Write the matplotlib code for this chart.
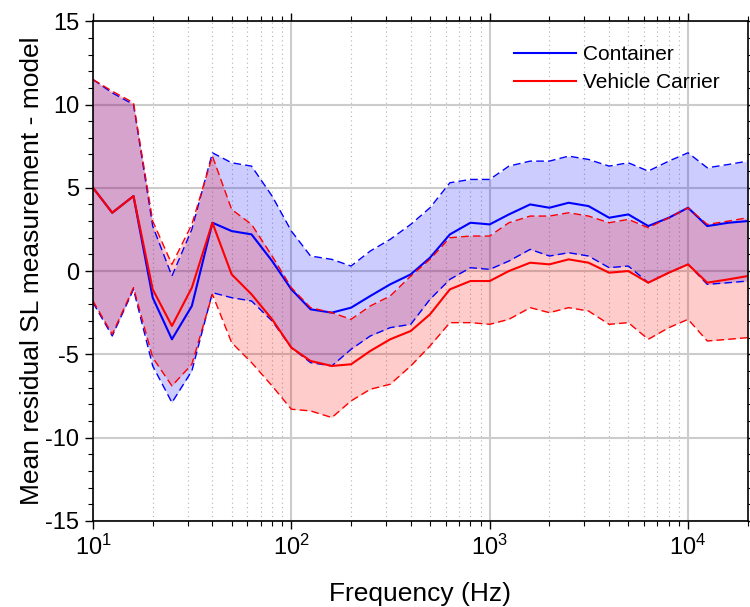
import numpy as np
import matplotlib.pyplot as plt
from matplotlib.ticker import LogLocator, MultipleLocator, NullFormatter

plt.rcParams['font.family'] = ['Liberation Sans', 'DejaVu Sans']
plt.rcParams['axes.unicode_minus'] = False
plt.rcParams['mathtext.fontset'] = 'custom'
plt.rcParams['mathtext.rm'] = 'Liberation Sans'

# third-octave band centre frequencies (Hz)
freq = [10, 12.5, 16, 20, 25, 31.5, 40, 50, 63, 80, 100, 125, 160, 200, 250, 315,
        400, 500, 630, 800, 1000, 1250, 1600, 2000, 2500, 3150, 4000, 5000, 6300,
        8000, 10000, 12500, 16000, 20000]

# Container: mean residual and band limits
cont_mean = [5.0, 3.5, 4.5, -1.6, -4.1, -2.1, 2.9, 2.4, 2.2, 0.6, -1.1, -2.3, -2.5, -2.2,
             -1.5, -0.8, -0.2, 0.8, 2.2, 2.9, 2.8, 3.4, 4.0, 3.8, 4.1, 3.9, 3.2, 3.4, 2.7,
             3.2, 3.8, 2.7, 2.9, 3.0]
cont_upper = [11.5, 10.7, 10.0, 2.7, -0.3, 2.5, 7.1, 6.5, 6.3, 4.5, 2.4, 0.9, 0.7, 0.3,
              1.2, 1.9, 2.8, 3.8, 5.3, 5.5, 5.5, 6.3, 6.6, 6.6, 6.9, 6.7, 6.3, 6.5, 6.0,
              6.6, 7.1, 6.2, 6.4, 6.6]
cont_lower = [-1.9, -3.9, -1.1, -5.7, -7.9, -6.0, -1.3, -1.6, -1.8, -3.0, -4.6, -5.5, -5.7,
              -4.7, -3.9, -3.4, -3.2, -1.7, -0.5, 0.2, 0.1, 0.6, 1.3, 0.9, 1.1, 0.9, 0.2,
              0.3, -0.7, -0.1, 0.4, -0.8, -0.7, -0.6]

# Vehicle carrier: mean residual and band limits
veh_mean = [5.0, 3.5, 4.5, -1.1, -3.3, -1.0, 2.9, -0.2, -1.4, -2.9, -4.6, -5.4, -5.7, -5.6,
            -4.8, -4.1, -3.6, -2.6, -1.1, -0.6, -0.6, 0.0, 0.5, 0.4, 0.7, 0.5, -0.1, 0.0,
            -0.7, -0.1, 0.4, -0.7, -0.5, -0.3]
veh_upper = [11.5, 10.8, 10.1, 3.0, 0.4, 2.8, 6.9, 3.7, 2.8, 0.9, -1.0, -2.2, -2.5, -2.9,
             -2.1, -1.5, -0.3, 0.7, 2.0, 2.1, 2.1, 2.9, 3.3, 3.3, 3.5, 3.3, 2.9, 3.1, 2.6,
             3.2, 3.8, 2.8, 3.0, 3.2]
veh_lower = [-1.8, -3.8, -1.0, -5.2, -6.9, -5.6, -1.4, -4.3, -5.5, -6.9, -8.3, -8.4, -8.8,
             -7.8, -7.1, -6.8, -5.7, -4.5, -3.1, -3.1, -3.2, -2.9, -2.2, -2.5, -2.2, -2.4,
             -3.2, -3.1, -4.1, -3.4, -2.9, -4.2, -4.1, -4.0]

fig = plt.figure(figsize=(7.5, 6.07), dpi=100)
ax = fig.add_axes([0.124, 0.142, 0.873, 0.823])

dash = (0, (5.5, 3))

# container band
ax.fill_between(freq, cont_lower, cont_upper, color='blue', alpha=0.2, linewidth=0)
ax.plot(freq, cont_upper, linestyle=dash, color='blue', lw=1)
ax.plot(freq, cont_lower, linestyle=dash, color='blue', lw=1)
ax.plot(freq, cont_mean, '-', color='blue', lw=1.5, label='Container')

# vehicle carrier band
ax.fill_between(freq, veh_lower, veh_upper, color='red', alpha=0.2, linewidth=0)
ax.plot(freq, veh_upper, linestyle=dash, color='red', lw=1)
ax.plot(freq, veh_lower, linestyle=dash, color='red', lw=1)
ax.plot(freq, veh_mean, '-', color='red', lw=1.5, label='Vehicle Carrier')

ax.set_xscale('log')
ax.set_xlim(10, 20000)
ax.set_ylim(-15, 15)
ax.yaxis.set_major_locator(MultipleLocator(5))
ax.yaxis.set_minor_locator(MultipleLocator(1))
ax.xaxis.set_minor_locator(LogLocator(base=10, subs=np.arange(2, 10)))
ax.xaxis.set_minor_formatter(NullFormatter())

ax.grid(True, which='major', color='0.8', lw=1.5)
ax.grid(True, which='minor', axis='x', color='0.7', lw=0.8, linestyle=(0, (1, 3)))
ax.set_axisbelow(True)

ax.tick_params(which='both', direction='out', top=True, right=True, labelsize=17)
ax.tick_params(which='major', length=6, width=1, pad=4)
ax.tick_params(which='minor', length=3.5, width=0.8)
for s in ax.spines.values():
    s.set_linewidth(1.2)

ax.set_xlabel('Frequency (Hz)', fontsize=19, labelpad=16)
ax.set_ylabel('Mean residual SL measurement - model', fontsize=19, labelpad=1)

ax.legend(loc='upper right', frameon=False, fontsize=15, handlelength=3.0,
          handletextpad=0.3, labelspacing=0.45, bbox_to_anchor=(0.985, 0.99))

plt.savefig('out.png', dpi=100)
